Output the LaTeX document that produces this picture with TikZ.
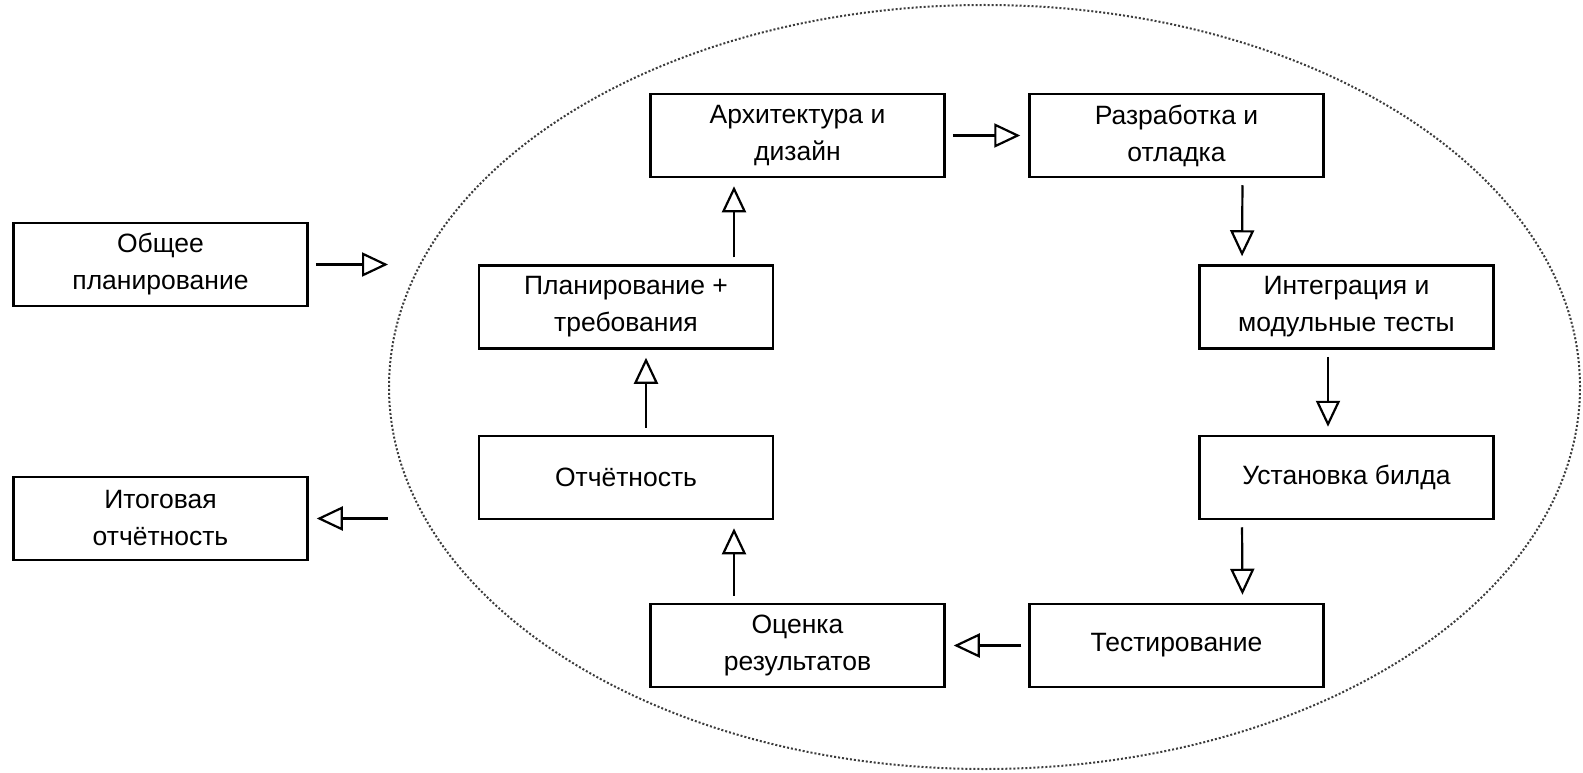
\documentclass[tikz,border=0pt]{standalone}
\usepackage{fontspec}
\setmainfont{Liberation Sans}
\usetikzlibrary{positioning,arrows.meta,shapes.geometric}
\definecolor{lcGray}{RGB}{60,60,60}
\definecolor{lcBlack}{RGB}{0,0,0}

\begin{document}
\begin{tikzpicture}[x=1pt, y=-1pt,
  stage/.style={draw=lcBlack, line width=2.5pt, minimum width=294pt, minimum height=83pt,
    align=center, inner sep=0pt, font=\fontsize{26.5}{37}\selectfont},
  flow/.style={line width=2.2pt, -{Triangle[open, length=26pt, width=24pt, line width=2.2pt]},
    shorten <=7pt, shorten >=8pt}]
  \useasboundingbox (0,0) rectangle (1583,773);

  % Iteration loop
  \node[ellipse, draw=lcGray, line width=2pt, dash pattern=on 2pt off 2pt,
    minimum width=1191pt, minimum height=764pt, inner sep=0pt] (loop) at (984.5,387) {};

  % Outer stages
  \node[stage] (obshee) at (160.5,264.5) {Общее\\планирование};
  \node[stage] (itog)   at (160.5,518.5) {Итоговая\\отчётность};

  % Stages of one iteration
  \node[stage] (arkh)   at (797.5,135.5)  {Архитектура и\\дизайн};
  \node[stage] (razrab) at (1176.5,135.5) {Разработка и\\отладка};
  \node[stage] (integr) at (1346.5,307)   {Интеграция и\\модульные тесты};
  \node[stage] (ustan)  at (1346.5,477.5) {Установка билда};
  \node[stage] (testir) at (1176.5,645.5) {Тестирование};
  \node[stage] (ocenka) at (797.5,645.5)  {Оценка\\результатов};
  \node[stage] (otchet) at (626,477.5)    {Отчётность};
  \node[stage] (plan)   at (626,307)      {Планирование +\\требования};

  % Connectors
  \draw[flow, shorten >=0pt] (obshee.east) -- (obshee.east -| loop.west);
  \draw[flow, shorten <=0pt] (itog.east -| loop.west) -- (itog.east);
  \draw[flow] (arkh) -- (razrab);
  \draw[flow] ([xshift=66pt]razrab.south) -- ([xshift=-104.5pt]integr.north);
  \draw[flow] ([xshift=-18.5pt]integr.south) -- ([xshift=-18.5pt]ustan.north);
  \draw[flow] ([xshift=-104.5pt]ustan.south) -- ([xshift=66pt]testir.north);
  \draw[flow] (testir) -- (ocenka);
  \draw[flow] ([xshift=-63.5pt]ocenka.north) -- ([xshift=108pt]otchet.south);
  \draw[flow] ([xshift=20pt]otchet.north) -- ([xshift=20pt]plan.north |- plan.south);
  \draw[flow] ([xshift=108pt]plan.north) -- ([xshift=-63.5pt]arkh.south);
\end{tikzpicture}
\end{document}
